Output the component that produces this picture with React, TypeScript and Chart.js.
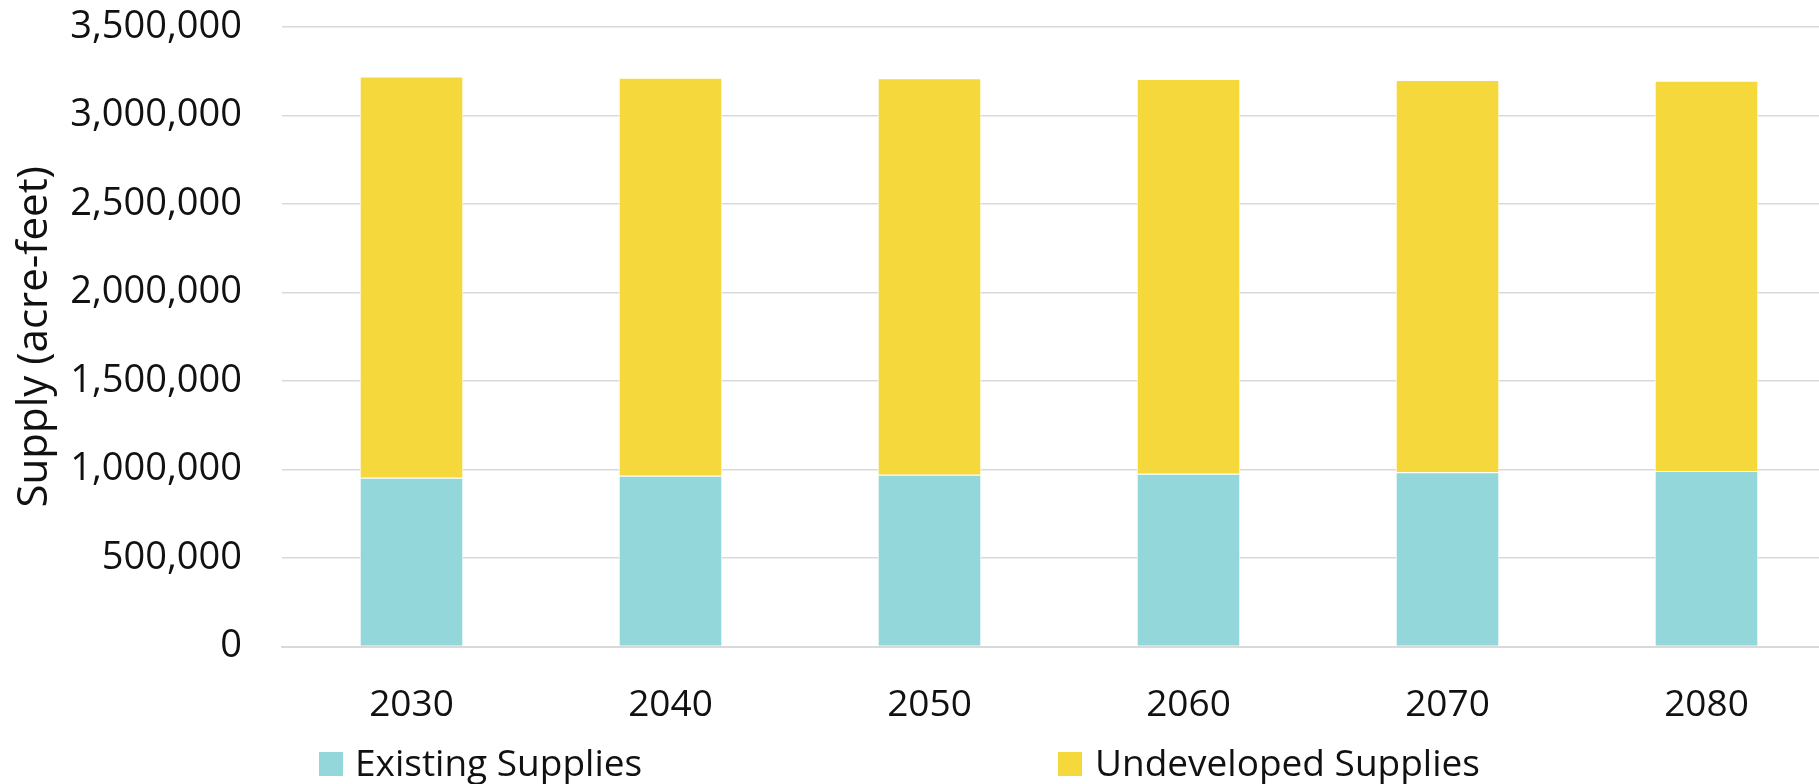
import React, { useEffect, useRef } from "react";
import { Chart, registerables } from "chart.js";

Chart.register(...registerables);

const categories = ["2030", "2040", "2050", "2060", "2070", "2080"];
const existingSupplies = [954000, 965000, 971000, 976000, 984000, 992000];
const undevelopedSupplies = [2267000, 2248000, 2239000, 2230000, 2216000, 2204000];
const seriesNames = ["Existing Supplies", "Undeveloped Supplies"];
const seriesColors = ["#93D7DB", "#F5D93C"];
const yMax = 3500000;
const yStep = 500000;
const yTitle = "Supply (acre-feet)";

const FONT = "'Open Sans', sans-serif";

const legendPlugin = {
  id: "fixedLegend",
  afterDraw(chart: any) {
    const ctx = chart.ctx;
    const spots = [
      { box: 319, text: 355 },
      { box: 1058, text: 1095 },
    ];
    ctx.save();
    chart.data.datasets.forEach((ds: any, i: number) => {
      const s = spots[i];
      if (!s) return;
      ctx.fillStyle = ds.backgroundColor;
      ctx.fillRect(s.box, 752, 24, 24);
      ctx.fillStyle = "#111111";
      ctx.font = `37px ${FONT}`;
      ctx.textBaseline = "middle";
      ctx.textAlign = "left";
      ctx.fillText(ds.label, s.text, 765);
    });
    ctx.restore();
  },
};

export default function App() {
  const canvasRef = useRef<HTMLCanvasElement | null>(null);

  useEffect(() => {
    if (!canvasRef.current) return;
    const chart = new Chart(canvasRef.current, {
      type: "bar",
      data: {
        labels: categories,
        datasets: [
          {
            label: seriesNames[0],
            data: existingSupplies,
            backgroundColor: seriesColors[0],
            borderColor: "#ffffff",
            borderWidth: 1,
          },
          {
            label: seriesNames[1],
            data: undevelopedSupplies,
            backgroundColor: seriesColors[1],
            borderColor: "#ffffff",
            borderWidth: 1,
          },
        ],
      },
      options: {
        animation: false,
        responsive: true,
        maintainAspectRatio: false,
        layout: { padding: { top: 27, bottom: 61, left: 0, right: 0 } },
        datasets: { bar: { categoryPercentage: 0.8, barPercentage: 0.5 } },
        plugins: {
          legend: { display: false },
          tooltip: { enabled: false },
        },
        scales: {
          x: {
            stacked: true,
            grid: { display: false, drawTicks: false },
            border: { display: true, color: "#D9D9D9", width: 2 },
            ticks: {
              padding: 37,
              color: "#111111",
              font: { family: FONT, size: 37 },
            },
            afterFit: (scale: any) => {
              scale.height = 76.5;
              scale.paddingLeft = 0;
              scale.paddingRight = 0;
            },
          },
          y: {
            stacked: true,
            min: 0,
            max: yMax,
            grid: { color: "#D9D9D9", lineWidth: 1.5, drawTicks: false },
            border: { display: false },
            ticks: {
              stepSize: yStep,
              padding: 40,
              color: "#111111",
              font: { family: FONT, size: 38 },
              callback: (v: any) => Number(v).toLocaleString("en-US"),
            },
            title: {
              display: true,
              text: yTitle,
              color: "#111111",
              font: { family: FONT, size: 42 },
              padding: { top: 10, bottom: 10 },
            },
            afterFit: (scale: any) => {
              scale.width = 282;
              scale.paddingTop = 0;
              scale.paddingBottom = 0;
            },
          },
        },
      },
      plugins: [legendPlugin],
    });
    return () => chart.destroy();
  }, []);

  return (
    <div
      style={{
        position: "fixed",
        left: 0,
        top: 0,
        width: "1819px",
        height: "784px",
        overflow: "hidden",
        background: "#ffffff",
      }}
    >
      <div style={{ position: "relative", width: "1836px", height: "784px" }}>
        <canvas ref={canvasRef} />
      </div>
    </div>
  );
}
